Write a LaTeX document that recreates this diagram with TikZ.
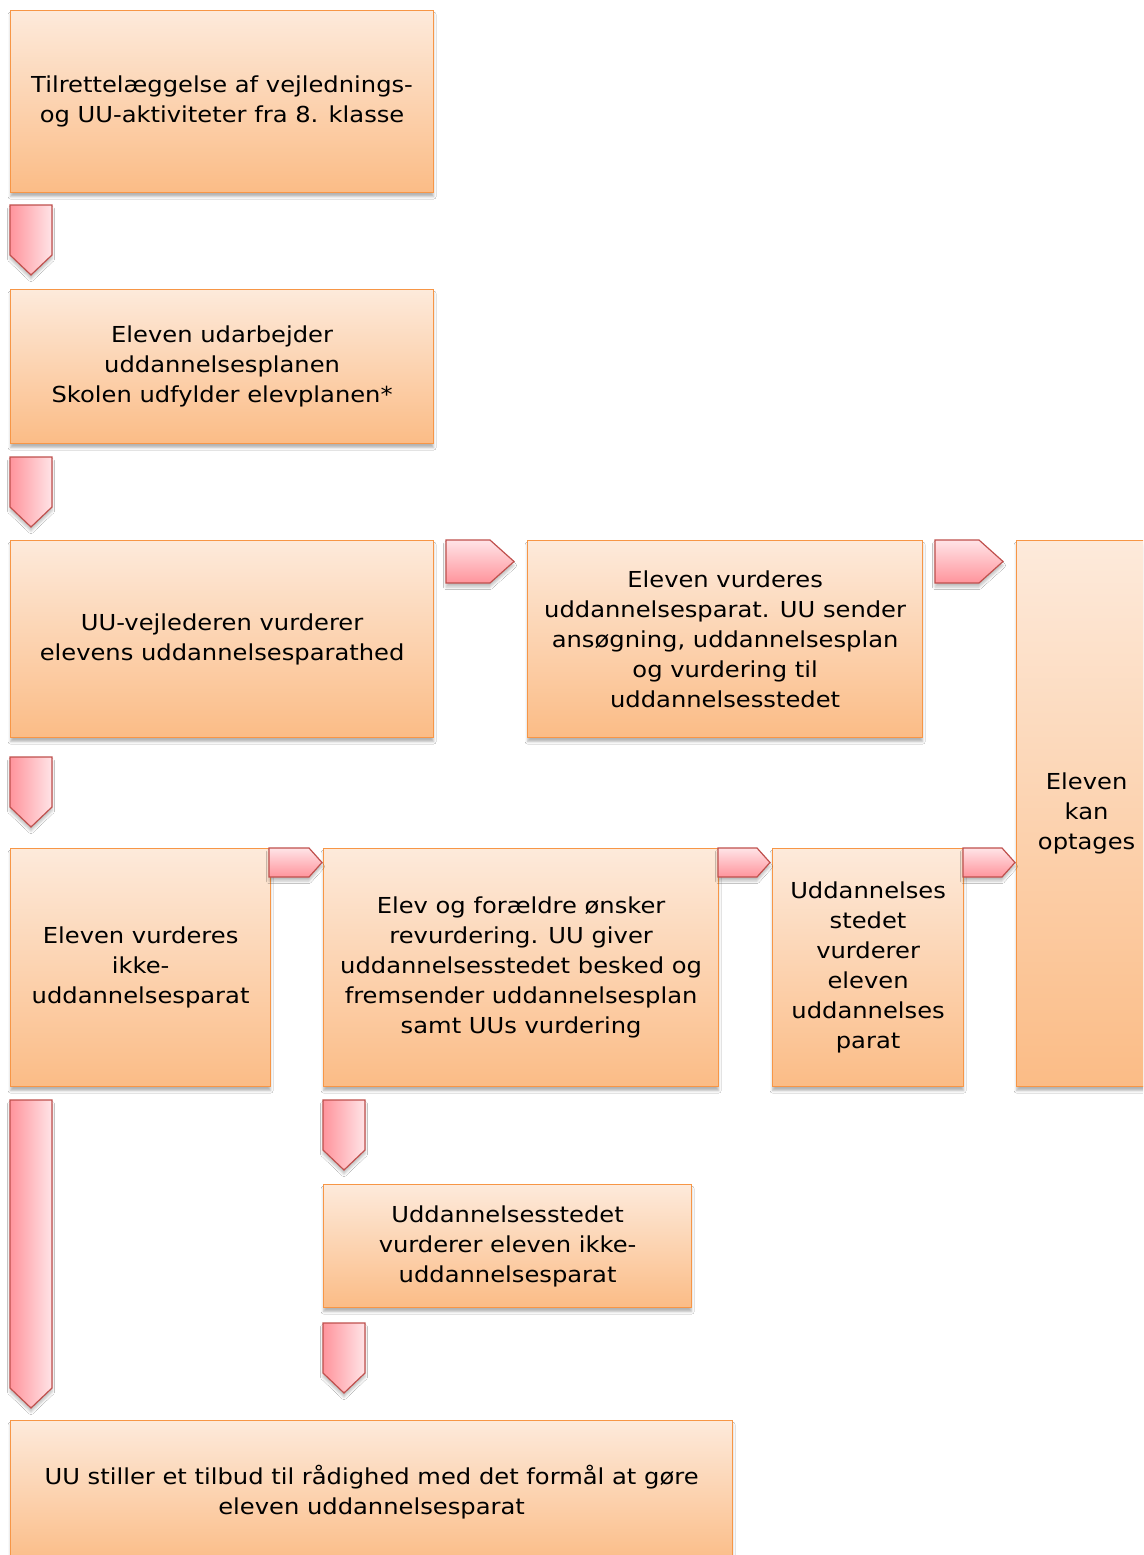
\documentclass[tikz,border=0pt]{standalone}
\usepackage{fontspec}
\setmainfont[FakeStretch=1.1]{DejaVu Sans}
\usetikzlibrary{shadows.blur}
\definecolor{boxTop}{RGB}{253,234,219}
\definecolor{boxBot}{RGB}{251,188,134}
\definecolor{boxLine}{RGB}{247,150,70}
\definecolor{pinkD}{RGB}{255,148,156}
\definecolor{pinkL}{RGB}{255,228,231}
\definecolor{arrLine}{RGB}{192,80,77}
\tikzset{
  box/.style={draw=boxLine, line width=1.2pt, top color=boxTop, bottom color=boxBot,
    anchor=north west, inner sep=0pt, align=center,
    font=\fontsize{22}{30}\selectfont, text=black,
    blur shadow={shadow xshift=0pt, shadow yshift=-4pt, shadow opacity=30,
      shadow blur radius=2.5pt, shadow blur extra rounding=0pt}},
  arrowbox/.style={draw=arrLine, line width=1.2pt, line join=miter,
    blur shadow={shadow xshift=0pt, shadow yshift=-4pt, shadow opacity=25,
      shadow blur radius=2.5pt, shadow blur extra rounding=0pt}}
}
% down arrow: x-left, y-top, y-bottom (tip)
\newcommand\dnarr[3]{\path[arrowbox, left color=pinkD, right color=pinkL]
  (#1,#2) -- ({#1+42},#2) -- ({#1+42},{#3-20}) -- ({#1+21},#3) -- (#1,{#3-20}) -- cycle;}
% right arrow: x-left, x-tip, y-top, y-bottom, depth
\newcommand\rtarr[5]{\path[arrowbox, top color=pinkL, bottom color=pinkD]
  (#1,#3) -- ({#2-#5},#3) -- (#2,{(#3+#4)/2}) -- ({#2-#5},#4) -- (#1,#4) -- cycle;}
\begin{document}
\begin{tikzpicture}[x=1pt,y=-1pt]
\useasboundingbox (0,0) rectangle (1143,1555);
\clip (0,0) rectangle (1143,1555);
\fill[white] (0,0) rectangle (1143,1555);

\node[box, minimum width=423pt, minimum height=182pt] (b1) at (10,10)
  {Tilrettelæggelse af vejlednings-\\og UU-aktiviteter fra 8. klasse};
\node[box, minimum width=423pt, minimum height=154pt] (b2) at (10,289)
  {Eleven udarbejder\\uddannelsesplanen\\Skolen udfylder elevplanen*};
\node[box, minimum width=423pt, minimum height=197pt] (b3) at (10,540)
  {UU-vejlederen vurderer\\elevens uddannelsesparathed};
\node[box, minimum width=395pt, minimum height=197pt] (b4) at (527,540)
  {Eleven vurderes\\uddannelsesparat. UU sender\\ansøgning, uddannelsesplan\\og vurdering til\\uddannelsesstedet};
\node[box, minimum width=140pt, minimum height=546pt] (b5) at (1016,540)
  {Eleven\\kan\\optages};
\node[box, minimum width=260pt, minimum height=238pt] (b6) at (10,848)
  {Eleven vurderes\\ikke-\\uddannelsesparat};
\node[box, minimum width=395pt, minimum height=238pt] (b7) at (323,848)
  {Elev og forældre ønsker\\revurdering. UU giver\\uddannelsesstedet besked og\\fremsender uddannelsesplan\\samt UUs vurdering};
\node[box, minimum width=191pt, minimum height=238pt] (b8) at (772,848)
  {Uddannelses\\stedet\\vurderer\\eleven\\uddannelses\\parat};
\node[box, minimum width=368pt, minimum height=123pt] (b9) at (323,1184)
  {Uddannelsesstedet\\vurderer eleven ikke-\\uddannelsesparat};
\node[box, minimum width=722pt, minimum height=144pt] (b10) at (10,1420)
  {UU stiller et tilbud til rådighed med det formål at gøre\\eleven uddannelsesparat};

% block arrows
\dnarr{10}{205}{275}
\dnarr{10}{457}{527}
\dnarr{10}{757}{827}
\dnarr{10}{1100}{1408}
\dnarr{323}{1100}{1170}
\dnarr{323}{1323}{1393}
\rtarr{446}{514}{540}{583}{24}
\rtarr{935}{1003}{540}{583}{24}
\rtarr{269}{322}{848}{877}{13}
\rtarr{718}{770}{848}{877}{13}
\rtarr{963}{1015}{848}{877}{13}
\end{tikzpicture}
\end{document}
